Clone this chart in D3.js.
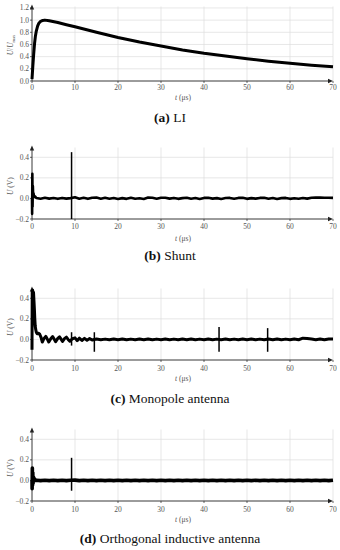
<!DOCTYPE html>
<html><head><meta charset="utf-8">
<script src="https://cdn.jsdelivr.net/npm/d3@7/dist/d3.min.js"></script>
<style>body{margin:0;background:#fff}svg{display:block}svg text{font-family:"Liberation Serif","DejaVu Serif",serif}</style>
</head><body>
<script>
// ---- data ----
const xTicks = [0,10,20,30,40,50,60,70];
const liTicks = [0,0.2,0.4,0.6,0.8,1.0,1.2];
const vTicks = [-0.2,0,0.2,0.4];
const captions = [["(a)"," LI"],["(b)"," Shunt"],["(c)"," Monopole antenna"],["(d)"," Orthogonal inductive antenna"]];

// (a) normalised lightning impulse
const liT = [0,0.2,0.4,0.6,0.8,1,1.3,1.6,2,2.5,3,4,6,8,10,15,20,25,30,35,40,45,50,55,60,65,70];
const liU = [0.03,0.25,0.45,0.62,0.74,0.82,0.9,0.95,0.98,0.995,1.0,0.99,0.96,0.925,0.89,0.8,0.715,0.64,0.575,0.51,0.455,0.41,0.365,0.325,0.29,0.26,0.235];

// (b) shunt
const shuntStart = [[0,0],[0.03,-0.15],[0.08,0.24],[0.13,-0.08],[0.2,0.12],[0.28,0.01],[0.35,0.05],[0.5,0.015],[0.7,0.02]];
const shuntSpikes = [[9.2,0.45],[9.2,-0.2]];
const shuntNoise = [0.004,-0.003,0.006,-0.002,0.004,-0.004,0.005,-0.002,0.003,0.012,-0.003,0.006,-0.004,0.007,0.008,-0.003,0.006,-0.003,0.004,-0.005,0.003,-0.004,0.006,-0.003,0.002,-0.005,0.008,0.007,-0.003,0.006,0.007,-0.002,0.005,-0.004,0.003,0.007,-0.003,0.004,-0.005,0.005,0.006,-0.002,0.003,-0.005,0.004,0.005,-0.003,0.005,0.006,-0.004,0.003,-0.002,0.005,0.007,-0.003,0.004,-0.005,0.003,0.005,-0.004,0.002,-0.003,0.004,-0.002,0.007,0.008,0.008,0.006,0.007,0.005];

// (c) monopole antenna
const monoStart = [[0,-0.1],[0.05,0.47],[0.15,0.48],[0.25,0.43],[0.35,0.46],[0.45,0.38],[0.55,0.3],[0.65,0.2],[0.75,0.13],[0.85,0.1],[1.0,0.07],[1.2,0.055],[1.5,0.06],[1.8,0.05],[2.1,0.02],[2.4,-0.025],[2.8,0.01],[3.2,0.03],[3.6,0.0],[3.9,-0.025],[4.4,0.01],[4.8,0.028],[5.2,0.0],[5.5,-0.022],[6.0,0.01],[6.4,0.025],[6.8,0.0],[7.1,-0.02],[7.6,0.01],[8.0,0.022],[8.4,0.0],[8.8,-0.018],[9.2,0.0],[9.6,0.01],[10,0.015],[10.5,-0.012],[11,0.012],[11.6,-0.01],[12.2,0.01],[12.8,-0.008],[13.4,0.008],[14,-0.006]];
const monoSpikes = [[9.2,0.07],[9.2,-0.06],[14.5,0.07],[14.5,-0.12],[43.5,0.12],[43.5,-0.12],[54.8,0.11],[54.8,-0.12]];
const monoNoise = [0.004,-0.003,0.003,-0.004,0.004,-0.003,0.004,-0.004,0.003,-0.003,0.004,-0.003,0.004,-0.004,0.003,-0.003,0.004,-0.003,0.003,-0.004,0.004,-0.003,0.004,-0.003,0.003,-0.004,0.004,-0.003,0.003,-0.003,0.004,-0.004,0.003,-0.003,0.004,-0.003,0.004,-0.003,0.003,-0.004,0.004,-0.003,0.004,-0.003,0.003,-0.004,0.004,-0.003,0.012,0.01,0.004,-0.003,0.004,-0.003,0.004,0.004];

// (d) orthogonal inductive antenna
const orthoStart = [[0,0],[0.03,-0.08],[0.08,0.12],[0.12,-0.05],[0.18,0.08],[0.25,-0.03],[0.3,0.04],[0.4,0.01],[0.6,0.015],[0.8,0.0]];
const orthoSpikes = [[9.2,0.22],[9.2,-0.1]];
const orthoNoise = [0.002,-0.002,0.002,-0.002,0.002,-0.002,0.002,-0.002,0.002,0.003,-0.002,0.002,-0.002,0.002,-0.002,0.002,-0.002,0.002,-0.002,0.002,-0.002,0.002,-0.002,0.002,-0.002,0.002,-0.002,0.002,-0.002,0.002,-0.002,0.002,-0.002,0.002,-0.002,0.002,-0.002,0.002,-0.002,0.002,-0.002,0.002,-0.002,0.002,-0.002,0.002,-0.002,0.002,-0.002,0.002,-0.002,0.002,-0.002,0.002,-0.002,0.002,-0.002,0.002,-0.002,0.002,-0.002,0.002,-0.002,0.002,-0.002,0.002,-0.002,0.002,-0.002,0.002];

// ---- drawing ----
const W = 340, H = 550;
const svg = d3.select("body").append("svg").attr("width",W).attr("height",H);

function withNoise(start, noise, t0){
  const pts = start.slice();
  noise.forEach((v,i)=>pts.push([t0+i, v]));
  pts.sort((a,b)=>a[0]-b[0]);
  return pts;
}
function spikePairs(sp){ const out=[]; for(let i=0;i<sp.length;i+=2) out.push([sp[i],sp[i+1]]); return out; }

const panels = [
  {top:5.5, y0:81, domain:[0,1.24], ticks:liTicks, label:"li",
   data: liT.map((t,i)=>[t,liU[i]]), spikes:[], sw:3, cap:122, xl:100, tl:90},
  {top:146.5, y0:219, domain:[-0.2,0.505], ticks:vTicks, label:"v",
   data: withNoise(shuntStart, shuntNoise, 1), spikes:spikePairs(shuntSpikes), sw:2.6, cap:260, xl:241, tl:229},
  {top:287.5, y0:360, domain:[-0.2,0.505], ticks:vTicks, label:"v",
   data: withNoise(monoStart, monoNoise, 15), spikes:spikePairs(monoSpikes), sw:3, cap:403, xl:381, tl:371},
  {top:428.5, y0:501, domain:[-0.2,0.505], ticks:vTicks, label:"v",
   data: withNoise(orthoStart, orthoNoise, 1), spikes:spikePairs(orthoSpikes), sw:3.6, cap:543, xl:522, tl:512}
];

const x = d3.scaleLinear().domain([0,70]).range([32,333]);
const fmt = d3.format(".1f");

panels.forEach((p,k)=>{
  const y = d3.scaleLinear().domain(p.domain).range([p.y0, p.top]);
  const g = svg.append("g");
  g.selectAll(".vg").data(xTicks.slice(1)).join("line")
    .attr("x1",d=>x(d)).attr("x2",d=>x(d)).attr("y1",y(p.domain[1])+1).attr("y2",p.y0)
    .attr("stroke","#dcdcdc").attr("stroke-width",0.7);
  g.selectAll(".hg").data(p.ticks.filter(d=>d>p.domain[0])).join("line")
    .attr("x1",x(0)).attr("x2",x(70)).attr("y1",d=>y(d)).attr("y2",d=>y(d))
    .attr("stroke","#dcdcdc").attr("stroke-width",0.7);
  g.append("line").attr("x1",x(0)).attr("x2",x(70)-3).attr("y1",p.y0).attr("y2",p.y0).attr("stroke","#222").attr("stroke-width",0.9);
  g.append("path").attr("d",`M${x(70)},${p.y0} l-5,-2.2 l0,4.4 z`).attr("fill","#222");
  g.append("line").attr("x1",x(0)).attr("x2",x(0)).attr("y1",p.y0).attr("y2",p.top+3).attr("stroke","#222").attr("stroke-width",0.9);
  g.append("path").attr("d",`M${x(0)},${p.top-1} l-2.2,5 l4.4,0 z`).attr("fill","#222");
  g.selectAll(".xt").data(xTicks).join("line")
    .attr("x1",d=>x(d)).attr("x2",d=>x(d)).attr("y1",p.y0).attr("y2",p.y0+2)
    .attr("stroke","#222").attr("stroke-width",0.7);
  g.selectAll(".yt").data(p.ticks).join("line")
    .attr("x1",x(0)-2).attr("x2",x(0)).attr("y1",d=>y(d)).attr("y2",d=>y(d))
    .attr("stroke","#222").attr("stroke-width",0.7);
  g.selectAll(".xl").data(xTicks).join("text")
    .attr("x",d=>x(d)).attr("y",p.tl).attr("text-anchor","middle")
    .attr("font-size",7.5).attr("fill","#555").text(d=>d);
  g.selectAll(".yl").data(p.ticks).join("text")
    .attr("x",29).attr("y",d=>y(d)+2.5).attr("text-anchor","end")
    .attr("font-size",7.5).attr("fill","#555").text(d=>fmt(d));
  const xt = g.append("text").attr("x",183).attr("y",p.xl).attr("text-anchor","middle")
    .attr("font-size",7.5).attr("fill","#555");
  xt.append("tspan").attr("font-style","italic").text("t");
  xt.append("tspan").text(" (μs)");
  const yc = p.label==="li" ? 45 : (y(0.4)+y(-0.2))/2 - 2;
  const yt = g.append("text").attr("transform",`translate(13,${yc}) rotate(-90)`).attr("text-anchor","middle")
    .attr("font-size",7.5).attr("fill","#555");
  if(p.label==="li"){
    yt.append("tspan").attr("font-style","italic").text("U");
    yt.append("tspan").text("/");
    yt.append("tspan").attr("font-style","italic").text("U");
    yt.append("tspan").attr("font-size",4.5).attr("dy",1.5).text("max");
  } else {
    yt.append("tspan").attr("font-style","italic").text("U");
    yt.append("tspan").text(" (V)");
  }
  const line = d3.line().x(d=>x(d[0])).y(d=>y(d[1]));
  g.append("path").datum(p.data).attr("d",line).attr("fill","none")
    .attr("stroke","#000").attr("stroke-width",p.sw).attr("stroke-linejoin","round");
  g.selectAll(".sp").data(p.spikes).join("path").attr("d",line).attr("fill","none")
    .attr("stroke","#000").attr("stroke-width",1.5);
  const c = g.append("text").attr("x",170).attr("y",p.cap).attr("text-anchor","middle")
    .attr("font-size",13.5).attr("fill","#111");
  c.append("tspan").attr("font-weight","bold").text(captions[k][0]);
  c.append("tspan").text(captions[k][1]);
});
</script>
</body></html>
